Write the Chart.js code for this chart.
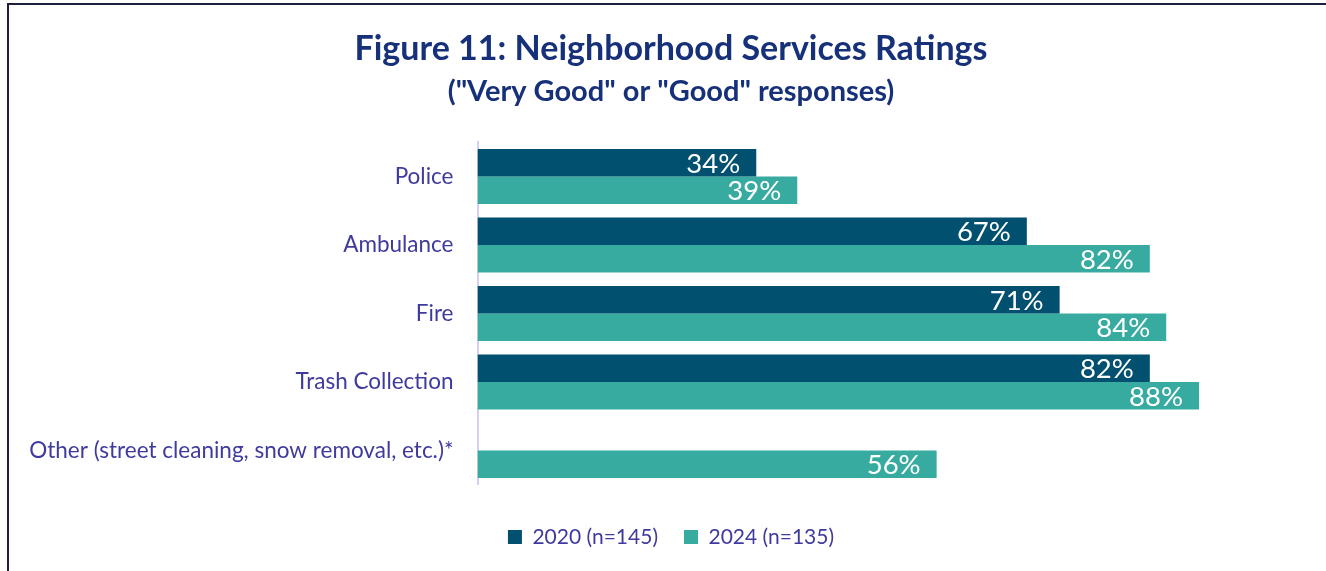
<!DOCTYPE html>
<html>
<head>
<meta charset="utf-8">
<title>Neighborhood Services Ratings</title>
<script src="https://cdn.jsdelivr.net/npm/chart.js@4.4.1/dist/chart.umd.min.js"></script>
<style>
  html, body { margin: 0; padding: 0; background: #fff; overflow: hidden; }
  #frame {
    position: absolute; left: 7px; top: 3px; width: 1400px; height: 600px;
    border-left: 2px solid #1d1f3b; border-top: 2px solid #1d1f3b;
  }
  #wrap { position: absolute; left: 0; top: 0; width: 1326px; height: 571px; }
</style>
</head>
<body>
<div id="frame"></div>
<div id="wrap"><canvas id="ratingsChart"></canvas></div>
<script>
// ==============================
// Data
// ==============================
const services = [
  "Police",
  "Ambulance",
  "Fire",
  "Trash Collection",
  "Other (street cleaning, snow removal, etc.)*"
];
const ratings2020 = [34, 67, 71, 82, null]; // "Other" was not asked in 2020
const ratings2024 = [39, 82, 84, 88, 56];
const seriesNames = ["2020 (n=145)", "2024 (n=135)"];

const TEXT_PURPLE = "#3f3b9e";
const TITLE_NAVY = "#16307a";
const BODY_FONT = "Lato, 'Open Sans', sans-serif";

// ==============================
// Percent labels inside the bar ends
// ==============================
const barValueLabels = {
  id: "barValueLabels",
  afterDatasetsDraw(chart) {
    const ctx = chart.ctx;
    ctx.save();
    ctx.font = "27.5px " + BODY_FONT;
    ctx.fillStyle = "#ffffff";
    ctx.textAlign = "right";
    ctx.textBaseline = "middle";
    chart.data.datasets.forEach((ds, i) => {
      const meta = chart.getDatasetMeta(i);
      meta.data.forEach((bar, j) => {
        const v = ds.data[j];
        if (v === null || v === undefined) return;
        ctx.fillText(v + "%", bar.x - 16, bar.y + 1);
      });
    });
    ctx.restore();
  }
};

const ctx = document.getElementById("ratingsChart").getContext("2d");
new Chart(ctx, {
  type: "bar",
  data: {
    labels: services,
    datasets: [
      {
        label: seriesNames[0],
        data: ratings2020,
        backgroundColor: "#02506f",
        categoryPercentage: 0.803,
        barPercentage: 1.0
      },
      {
        label: seriesNames[1],
        data: ratings2024,
        backgroundColor: "#38aba1",
        categoryPercentage: 0.803,
        barPercentage: 1.0
      }
    ]
  },
  options: {
    indexAxis: "y",
    responsive: true,
    maintainAspectRatio: false,
    animation: false,
    layout: { padding: { left: 20, right: 4, top: 0, bottom: 13.5 } },
    plugins: {
      title: {
        display: true,
        text: "Figure 11: Neighborhood Services Ratings",
        color: TITLE_NAVY,
        font: { family: BODY_FONT, size: 34, weight: "bold", lineHeight: 1.2 },
        padding: { top: 28.6, bottom: 0 }
      },
      subtitle: {
        display: true,
        text: "(\"Very Good\" or \"Good\" responses)",
        color: TITLE_NAVY,
        font: { family: BODY_FONT, size: 29, weight: "bold", lineHeight: 1.2 },
        padding: { top: 4.7, bottom: 33.35 }
      },
      legend: {
        position: "bottom",
        labels: {
          color: TEXT_PURPLE,
          font: { family: BODY_FONT, size: 21 },
          boxWidth: 14,
          boxHeight: 14,
          padding: 26
        }
      },
      tooltip: { enabled: false }
    },
    scales: {
      x: {
        min: 0,
        max: 103, // leaves the empty strip on the right of the plot
        grid: { display: false },
        border: { display: false },
        ticks: { display: false },
        afterFit(scale) { scale.height = 15.75; }
      },
      y: {
        grid: { display: false, drawTicks: false },
        border: { display: true, color: "#d3d0f0", width: 2 },
        ticks: {
          color: TEXT_PURPLE,
          font: { family: BODY_FONT, size: 22.5 },
          padding: 24
        },
        afterFit(scale) { scale.width = 457.5; }
      }
    }
  },
  plugins: [barValueLabels]
});
</script>
</body>
</html>
